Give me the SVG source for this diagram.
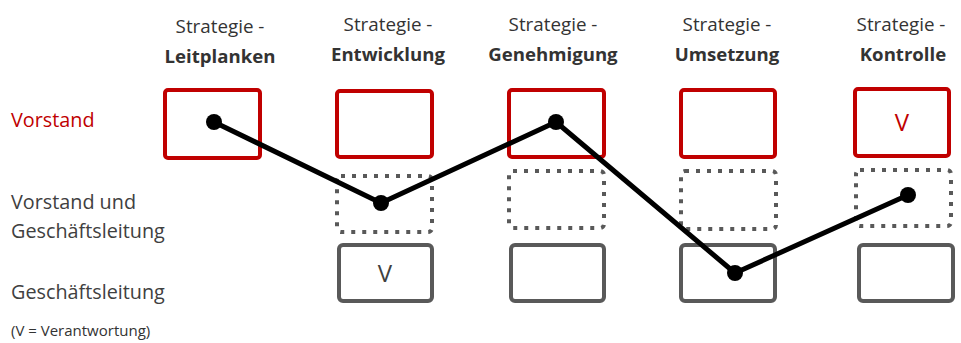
<svg xmlns="http://www.w3.org/2000/svg" width="961" height="343" viewBox="0 0 961 343">
<style>
text{font-family:"Open Sans","Noto Sans","Liberation Sans",sans-serif;}
.hd{font-size:18.8px;fill:#333;text-anchor:middle;}
.hb{font-size:18.6px;fill:#333;text-anchor:middle;font-weight:bold;}
.lb{font-size:19.8px;fill:#404040;}
.red{fill:none;stroke:#C00000;stroke-width:4;}
.dot{fill:none;stroke:#595959;stroke-width:4;stroke-dasharray:4 7;}
.gry{fill:none;stroke:#595959;stroke-width:4;}
.conn{fill:none;stroke:#000;stroke-width:5;stroke-linejoin:round;}
</style>
<g id="headers">
<text class="hd" x="220" y="33">Strategie -</text><text class="hb" x="220" y="63">Leitplanken</text>
<text class="hd" x="388" y="31">Strategie -</text><text class="hb" x="388" y="61">Entwicklung</text>
<text class="hd" x="553" y="31">Strategie -</text><text class="hb" x="553" y="61">Genehmigung</text>
<text class="hd" x="727" y="31">Strategie -</text><text class="hb" x="727" y="61">Umsetzung</text>
<text class="hd" x="901" y="31">Strategie -</text><text class="hb" x="903" y="61">Kontrolle</text>
</g>
<g id="labels">
<text class="lb" x="11" y="127" style="fill:#C00000">Vorstand</text>
<text class="lb" x="11" y="209">Vorstand und</text>
<text class="lb" x="11" y="238">Geschäftsleitung</text>
<text class="lb" x="11" y="299">Geschäftsleitung</text>
<text x="11" y="336" style="font-size:15px;fill:#333">(V = Verantwortung)</text>
</g>
<g id="c1-vorstand"><rect class="red" x="165" y="90" width="95" height="68" rx="3"/></g>
<g id="c2-vorstand"><rect class="red" x="337" y="91" width="95" height="66" rx="3"/></g>
<g id="c2-beide"><rect class="dot" x="337" y="176" width="95" height="56" rx="4"/></g>
<g id="c2-gl"><rect class="gry" x="339" y="245" width="93" height="56" rx="4"/><text x="385" y="282" style="font-size:24px;fill:#404040;text-anchor:middle">V</text></g>
<g id="c3-vorstand"><rect class="red" x="509" y="90" width="95" height="67" rx="3"/></g>
<g id="c3-beide"><rect class="dot" x="509" y="171" width="95" height="57" rx="4"/></g>
<g id="c3-gl"><rect class="gry" x="511" y="245" width="93" height="56" rx="4"/></g>
<g id="c4-vorstand"><rect class="red" x="681" y="90" width="94" height="67" rx="3"/></g>
<g id="c4-beide"><rect class="dot" x="681" y="171" width="95" height="58" rx="4"/></g>
<g id="c4-gl"><rect class="gry" x="681" y="245" width="94" height="56" rx="4"/></g>
<g id="c5-vorstand"><rect class="red" x="855" y="89" width="94" height="67" rx="3"/><text x="902" y="131" style="font-size:24px;fill:#C00000;text-anchor:middle">V</text></g>
<g id="c5-beide"><rect class="dot" x="856" y="170" width="95" height="56" rx="4"/></g>
<g id="c5-gl"><rect class="gry" x="859" y="245" width="94" height="56" rx="4"/></g>
<g id="connectors">
<polyline class="conn" points="214,122 381,203 556,122 735,273 908,195"/>
<circle cx="214" cy="122" r="8"/><circle cx="381" cy="203" r="8"/><circle cx="556" cy="122" r="8"/><circle cx="735" cy="273" r="8"/><circle cx="908" cy="195" r="8"/>
</g>
</svg>
